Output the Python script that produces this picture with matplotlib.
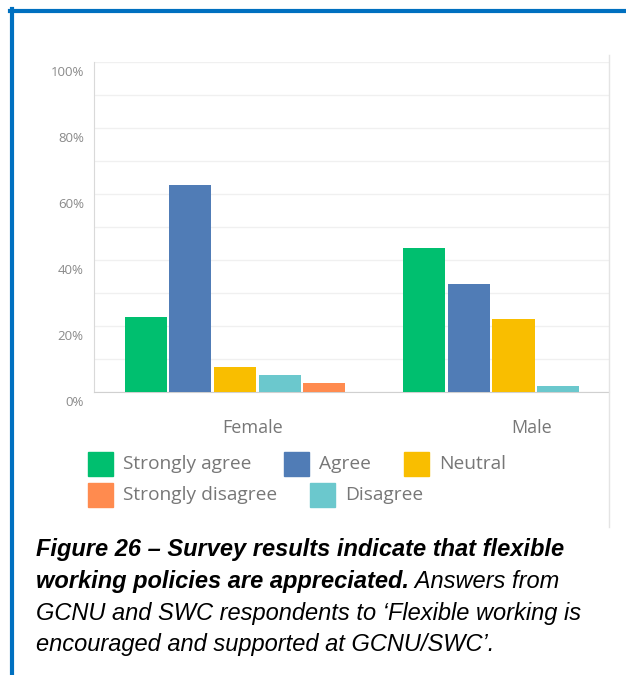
import numpy as np
import matplotlib
matplotlib.use('Agg')
import matplotlib.pyplot as plt
from matplotlib.patches import Rectangle
from matplotlib.lines import Line2D
import matplotlib.transforms as mtransforms

groups = ['Female', 'Male']
answers = ['Strongly agree', 'Agree', 'Neutral', 'Disagree', 'Strongly disagree']
values = {
    'Strongly agree': [22.6, 43.5],
    'Agree': [62.6, 32.6],
    'Neutral': [7.5, 21.9],
    'Disagree': [5.1, 1.8],
    'Strongly disagree': [2.6, 0.0],
}
colors = {
    'Strongly agree': '#00BF6F',
    'Agree': '#507CB6',
    'Neutral': '#F9BE00',
    'Disagree': '#6BC8CD',
    'Strongly disagree': '#FF8B4F',
}
legend_rows = [['Strongly agree', 'Agree', 'Neutral'], ['Strongly disagree', 'Disagree']]
yticks = [0, 20, 40, 60, 80, 100]

W, H = 626, 675
fig = plt.figure(figsize=(W / 100, H / 100), dpi=100)
fig.patch.set_facecolor('white')

ax = fig.add_axes([93.5 / W, 1 - 391.7 / H, (609 - 93.5) / W, (391.7 - 62) / H])
step = 0.160
width = 0.151
x = np.arange(len(groups))
for i, a in enumerate(answers):
    ax.bar(x + (i - 2) * step, values[a], width, color=colors[a], zorder=3)

ax.set_xlim(-0.508, 1.343)
ax.set_ylim(0, 100)
ax.set_yticks(yticks)
ax.set_yticklabels([f'{t}%' for t in yticks])
ax.set_yticks(np.arange(0, 101, 10), minor=True)
ax.grid(axis='y', which='both', color='#f0f0f0', linewidth=1, zorder=0)
ax.set_xticks(x + 0.065)
ax.set_xticklabels(groups)
for s in ['top', 'right']:
    ax.spines[s].set_visible(False)
ax.spines['left'].set_color('#d9d9d9')
ax.spines['bottom'].set_color('#d0d0d0')
ax.tick_params(axis='both', which='both', length=0)
ax.tick_params(axis='y', pad=7, labelsize=9.5, labelcolor='#8a8a8a')
ax.tick_params(axis='x', pad=20, labelsize=13, labelcolor='#777777')
for lab in ax.get_yticklabels():
    lab.set_fontfamily('Open Sans')
    lab.set_transform(lab.get_transform() + mtransforms.ScaledTranslation(0, -0.09, fig.dpi_scale_trans))
for lab in ax.get_xticklabels():
    lab.set_fontfamily('Open Sans')

# chart image right edge
fig.add_artist(Line2D([609 / W, 609 / W], [1 - 55 / H, 1 - 527 / H], color='#e4e4e4', linewidth=1))

# blue frame
fig.add_artist(Line2D([10 / W, 1], [1 - 10.5 / H, 1 - 10.5 / H], color='#0070C0', linewidth=3))
fig.add_artist(Line2D([12 / W, 12 / W], [1 - 9 / H, 0], color='#0070C0', linewidth=3))

renderer = fig.canvas.get_renderer()

# legend, flowing layout
row_tops = [452, 483]
for r, row in enumerate(legend_rows):
    px = 88
    top = row_tops[r]
    for a in row:
        fig.add_artist(Rectangle((px / W, 1 - (top + 24) / H), 25 / W, 24 / H,
                                 transform=fig.transFigure, color=colors[a]))
        t = fig.text((px + 35) / W, 1 - (top + 12) / H, a, fontsize=13.8, color='#777777',
                     family='Open Sans', va='center', ha='left')
        bb = t.get_window_extent(renderer)
        px = px + 35 + bb.width + 33

# caption
cap_lines = [
    [('Figure 26 – Survey results indicate that flexible', 'bold')],
    [('working policies are appreciated.', 'bold'), (' Answers from', 'normal')],
    [('GCNU and SWC respondents to ‘Flexible working is', 'normal')],
    [('encouraged and supported at GCNU/SWC’.', 'normal')],
]
baselines = [556, 588, 620, 651]
for line, base in zip(cap_lines, baselines):
    px = 36
    for txt, wt in line:
        t = fig.text(px / W, 1 - base / H, txt, fontsize=17, fontweight=wt, fontstyle='italic',
                     family='Liberation Sans', color='#000000', va='baseline', ha='left')
        bb = t.get_window_extent(renderer)
        px += bb.width

fig.savefig('out.png', dpi=100)
